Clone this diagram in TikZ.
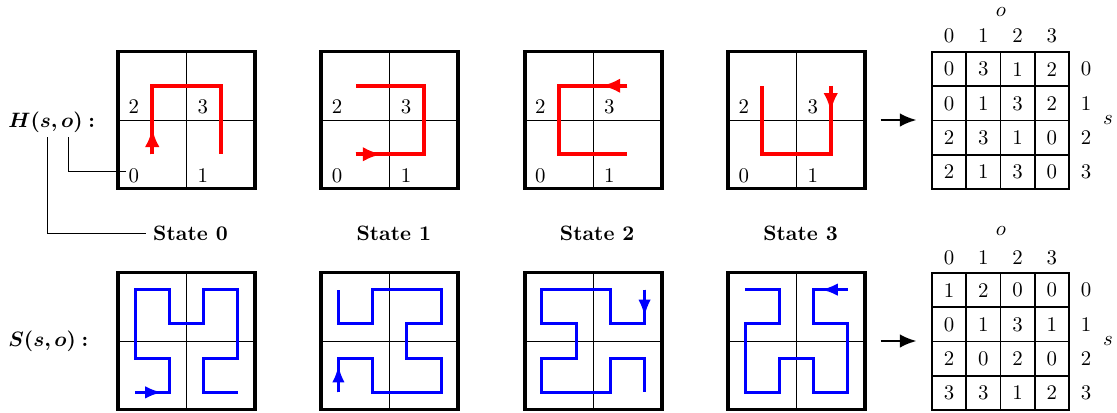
\documentclass[tikz,border=0pt]{standalone}
\usepackage{bm}
\usetikzlibrary{arrows.meta}
\newcommand{\hlabtext}{$\bm{H(s,o)}\mathrel{\bm{\colon}}$}
\newcommand{\slabtext}{$\bm{S(s,o)}\mathrel{\bm{\colon}}$}
\begin{document}
\begin{tikzpicture}[x=0.48pt,y=-0.48pt,
  frame/.style={draw, line width=1.9pt, minimum width=65.76pt, minimum height=65.76pt, inner sep=0pt, outer sep=0pt},
  divline/.style={line width=0.45pt},
  redpath/.style={draw=red, line width=2pt},
  bluepath/.style={draw=blue, line width=1.4pt},
  redtip/.style={-{Latex[length=9pt,width=7pt]}},
  bluetip/.style={-{Latex[length=8pt,width=6pt]}},
  qlabel/.style={inner sep=1pt, anchor=base west},
  statelabel/.style={font=\bfseries},
  cell/.style={draw, line width=0.8pt, minimum width=16.44pt, minimum height=16.44pt, inner sep=0pt},
  leader/.style={line width=0.4pt},
  bigarrow/.style={line width=1.2pt, -{Latex[length=8pt,width=6.5pt]}},
]
\useasboundingbox (0,0) rectangle (1117,412);

% frames, dividers, quadrant labels
\foreach \i/\bx in {0/118,1/321.3,2/524.7,3/728}{
  \node[frame] (T\i) at (\bx+68.5,120) {};
  \node[frame] (B\i) at (\bx+68.5,341) {};
  \draw[divline] (T\i.north) -- (T\i.south) (T\i.west) -- (T\i.east);
  \draw[divline] (B\i.north) -- (B\i.south) (B\i.west) -- (B\i.east);
  \node[qlabel] (q\i-2) at (\bx+8,113.5) {2};
  \node[qlabel] (q\i-3) at (\bx+77,113.5) {3};
  \node[qlabel] (q\i-0) at (\bx+8,182) {0};
  \node[qlabel] (q\i-1) at (\bx+77,182) {1};
  \node[statelabel] (st\i) at (\bx+72.5,233) {State \i};
}

% red paths (order 1)
\begin{scope}[shift={(118,51.5)}]
  \draw[redpath] (34.25,102.75) -- (34.25,34.25) -- (102.75,34.25) -- (102.75,102.75);
  \draw[redpath,redtip] (34.25,102.75) -- ++(0,-26);
\end{scope}
\begin{scope}[shift={(321.3,51.5)}]
  \draw[redpath] (34.25,102.75) -- (102.75,102.75) -- (102.75,34.25) -- (34.25,34.25);
  \draw[redpath,redtip] (34.25,102.75) -- ++(26,0);
\end{scope}
\begin{scope}[shift={(524.7,51.5)}]
  \draw[redpath] (102.75,34.25) -- (34.25,34.25) -- (34.25,102.75) -- (102.75,102.75);
  \draw[redpath,redtip] (102.75,34.25) -- ++(-26,0);
\end{scope}
\begin{scope}[shift={(728,51.5)}]
  \draw[redpath] (102.75,34.25) -- (102.75,102.75) -- (34.25,102.75) -- (34.25,34.25);
  \draw[redpath,redtip] (102.75,34.25) -- ++(0,26);
\end{scope}

% blue paths (order 2)
\begin{scope}[shift={(135.125,289.625)}, x=16.44pt, y=-16.44pt]
  \draw[bluepath] (0,3)--(1,3)--(1,2)--(0,2)--(0,0)--(1,0)--(1,1)--(2,1)--(2,0)--(3,0)--(3,2)--(2,2)--(2,3)--(3,3);
  \draw[bluepath,bluetip] (0,3) -- (0.78,3);
\end{scope}
\begin{scope}[shift={(338.425,289.625)}, x=16.44pt, y=-16.44pt]
  \draw[bluepath] (0,3)--(0,2)--(1,2)--(1,3)--(3,3)--(3,2)--(2,2)--(2,1)--(3,1)--(3,0)--(1,0)--(1,1)--(0,1)--(0,0);
  \draw[bluepath,bluetip] (0,3) -- (0,2.22);
\end{scope}
\begin{scope}[shift={(541.825,289.625)}, x=16.44pt, y=-16.44pt]
  \draw[bluepath] (3,0)--(3,1)--(2,1)--(2,0)--(0,0)--(0,1)--(1,1)--(1,2)--(0,2)--(0,3)--(2,3)--(2,2)--(3,2)--(3,3);
  \draw[bluepath,bluetip] (3,0) -- (3,0.78);
\end{scope}
\begin{scope}[shift={(745.125,289.625)}, x=16.44pt, y=-16.44pt]
  \draw[bluepath] (3,0)--(2,0)--(2,1)--(3,1)--(3,3)--(2,3)--(2,2)--(1,2)--(1,3)--(0,3)--(0,1)--(1,1)--(1,0)--(0,0);
  \draw[bluepath,bluetip] (3,0) -- (2.22,0);
\end{scope}

% row labels on the left
\node[anchor=west, inner sep=0pt] (Hlab) at (8,122) {\hlabtext};
\node[anchor=west, inner sep=0pt] (Slab) at (8,341) {\slabtext};
\coordinate (Hs) at (47,137);
\coordinate (Ho) at (68,137);
\draw[leader] (Hs) |- (st0.west);
\draw[leader] (Ho) |- ([yshift=2pt]q0-0.west);

% tables
\foreach \row [count=\r from 0] in {{0,3,1,2},{0,1,3,2},{2,3,1,0},{2,1,3,0}}{
  \foreach \v [count=\c from 0] in \row {
    \node[cell] (h-\r-\c) at (949.125+34.25*\c,69.125+34.25*\r) {\v};
  }
}
\foreach \row [count=\r from 0] in {{1,2,0,0},{0,1,3,1},{2,0,2,0},{3,3,1,2}}{
  \foreach \v [count=\c from 0] in \row {
    \node[cell] (g-\r-\c) at (949.125+34.25*\c,290.125+34.25*\r) {\v};
  }
}
\foreach \k in {0,1,2,3}{
  \node (hc\k) at (949.125+34.25*\k,36) {\k};
  \node (gc\k) at (949.125+34.25*\k,258) {\k};
  \node (hr\k) at (1086,69.125+34.25*\k) {\k};
  \node (gr\k) at (1086,290.125+34.25*\k) {\k};
}
\node (ho) at (1001,12) {$o$};
\node (go) at (1001,231) {$o$};
\node (hs) at (1108,120.5) {$s$};
\node (gs) at (1108,341.5) {$s$};

% arrows to tables
\draw[bigarrow, shorten <=7.5pt, shorten >=7pt] (T3.east) -- (T3.east -| h-0-0.west);
\draw[bigarrow, shorten <=7.5pt, shorten >=7pt] (B3.east) -- (B3.east -| g-0-0.west);
\end{tikzpicture}
\end{document}
